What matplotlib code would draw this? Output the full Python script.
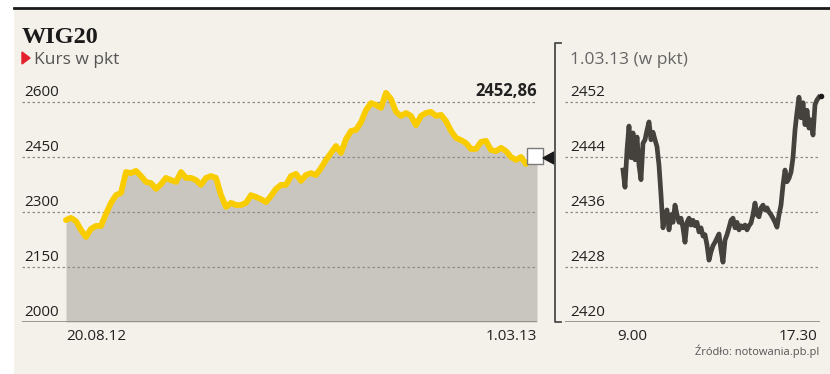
import matplotlib
matplotlib.use('Agg')
import matplotlib.pyplot as plt
from matplotlib.lines import Line2D
from matplotlib.patches import Rectangle, Polygon
import matplotlib.transforms as mtransforms

# WIG20, 20.08.12 - 1.03.13 (pkt)
wig20_daily = [2278, 2284, 2275, 2251, 2232, 2254, 2262, 2262, 2295, 2325,
               2346, 2352, 2409, 2406, 2412, 2398, 2382, 2379, 2363, 2376,
               2393, 2387, 2382, 2409, 2393, 2393, 2387, 2374, 2393, 2398,
               2393, 2346, 2314, 2325, 2319, 2319, 2325, 2346, 2341, 2335,
               2327, 2344, 2363, 2374, 2374, 2398, 2404, 2385, 2401, 2406,
               2401, 2420, 2442, 2461, 2480, 2461, 2499, 2521, 2524, 2545,
               2578, 2597, 2592, 2584, 2625, 2608, 2573, 2562, 2570, 2562,
               2537, 2562, 2570, 2573, 2562, 2565, 2548, 2521, 2502, 2496,
               2488, 2472, 2472, 2491, 2494, 2469, 2466, 2475, 2466, 2450,
               2442, 2450, 2431]
last_close = 2452.86
daily_ticks = [2000, 2150, 2300, 2450, 2600]
daily_labels = ['20.08.12', '1.03.13']

# WIG20 1.03.13, intraday
wig20_intraday = [2442.1, 2439.6, 2445.0, 2448.5, 2443.9, 2447.5, 2443.6, 2446.9, 2442.8, 2440.7,
                  2446.0, 2446.5, 2447.9, 2449.1, 2446.5, 2447.6, 2446.5, 2445.5, 2442.8, 2438.5,
                  2433.7, 2435.6, 2436.3, 2433.4, 2435.6, 2434.5, 2437.0, 2435.6, 2434.5, 2435.1,
                  2433.7, 2431.6, 2434.5, 2435.1, 2434.1, 2434.8, 2434.0, 2434.5, 2433.1, 2433.7,
                  2432.5, 2432.7, 2431.2, 2429.0, 2430.2, 2431.1, 2431.6, 2432.2, 2432.8, 2430.5,
                  2428.7, 2431.9, 2432.7, 2433.7, 2434.8, 2435.1, 2433.7, 2434.5, 2433.4, 2434.0,
                  2433.7, 2434.1, 2433.4, 2434.0, 2434.4, 2435.6, 2437.3, 2435.6, 2435.3, 2436.6,
                  2437.0, 2436.3, 2436.6, 2436.0, 2435.6, 2435.1, 2434.5, 2433.8, 2435.6, 2437.0,
                  2439.9, 2442.1, 2440.4, 2440.9, 2441.8, 2443.9, 2447.9, 2450.5, 2452.7, 2449.7,
                  2451.9, 2448.7, 2450.8, 2448.2, 2449.4, 2447.2, 2451.6, 2452.3, 2452.7]
intraday_ticks = [2420, 2428, 2436, 2444, 2452]
intraday_labels = ['9.00', '17.30']

W, H = 830, 374
BG = '#f4f0ea'
GRID = '#8f8c88'
TXT = '#222222'
FONT = 'Open Sans'


def fx(x):
    return x / W


def fy(y):
    return 1 - y / H


fig = plt.figure(figsize=(W / 100, H / 100), dpi=100)
fig.patch.set_facecolor('white')
fig.add_artist(Rectangle((fx(14), 0), 1 - fx(14), fy(8), transform=fig.transFigure,
                         facecolor=BG, edgecolor='none', zorder=0))
fig.add_artist(Line2D([fx(14), 1], [fy(8), fy(8)], transform=fig.transFigure,
                      color='#1a1a1a', lw=2))

fig.text(fx(22), fy(43), 'WIG20', family='Liberation Serif', weight='bold',
         size=17.5, color='#1a1a1a', va='baseline')
fig.add_artist(Polygon([(fx(22), fy(52)), (fx(22), fy(64)), (fx(30), fy(58))],
                       closed=True, transform=fig.transFigure, color='#e3212b'))
fig.text(fx(34), fy(64), 'Kurs w pkt', family=FONT, size=12.5, color='#555555',
         va='baseline')

# left chart
ax = fig.add_axes([fx(22), fy(322), (537 - 22) / W, (322 - 80) / H])
n = len(wig20_daily)
x0 = -(66 - 22) / 5
x1 = (n - 1) + (537 - 526) / 5
ax.set_xlim(x0, x1)
ax.set_ylim(2000, 2000 + (322 - 80) * 150 / 55)
ax.axis('off')

xs = list(range(n)) + [x1]
ax.fill_between(xs, wig20_daily + [last_close], 2000, color='#c9c6c0', lw=0, zorder=1)
ax.plot(range(n), wig20_daily, color='#f9cc00', lw=4.2, solid_joinstyle='round',
        solid_capstyle='round', zorder=3, clip_on=False)
for t in daily_ticks:
    if t == daily_ticks[0]:
        ax.axhline(t, color='#8a8884', lw=1.2, zorder=2)
    else:
        ax.axhline(t, color=GRID, lw=0.9, ls=(0, (2, 2)), zorder=2)
    ax.text(0.004, t + 16, str(t), transform=mtransforms.blended_transform_factory(ax.transAxes, ax.transData),
            family=FONT, size=11, color=TXT, va='baseline', ha='left')
ax.plot([x1 - 0.4], [last_close], marker='s', ms=11, mfc='white', mec='#7a7a7a',
        mew=1, zorder=5, clip_on=False)
ax.text(1.0, 2600 + 16, f'{last_close:.2f}'.replace('.', ','),
        transform=mtransforms.blended_transform_factory(ax.transAxes, ax.transData),
        family=FONT, weight='bold', size=12, color=TXT, ha='right', va='baseline')
ax.text(0, -0.075, daily_labels[0], transform=mtransforms.blended_transform_factory(ax.transData, ax.transAxes),
        family=FONT, size=11, color=TXT, ha='left', va='baseline')
ax.text(1.0, -0.075, daily_labels[1], transform=ax.transAxes,
        family=FONT, size=11, color=TXT, ha='right', va='baseline')

# connector
fig.add_artist(Polygon([(fx(543), fy(158)), (fx(554), fy(152)), (fx(554), fy(164))],
                       closed=True, transform=fig.transFigure, color='#1a1a1a'))
fig.add_artist(Line2D([fx(561), fx(555), fx(555), fx(561)],
                      [fy(43), fy(43), fy(322), fy(322)], transform=fig.transFigure,
                      color='#4a4a4a', lw=1.3))

# right chart
ax2 = fig.add_axes([fx(565), fy(322), (820 - 565) / W, (322 - 80) / H])
m = len(wig20_intraday)
r0 = -(623 - 565) / 2
r1 = (m - 1) + (820 - 819) / 2
ax2.set_xlim(r0, r1)
ax2.set_ylim(2420, 2420 + (322 - 80) * 8 / 55)
ax2.axis('off')
ax2.plot(range(m), wig20_intraday, color='#45413d', lw=3.4, solid_joinstyle='round',
         zorder=3, clip_on=False)
ax2.plot([m - 0.2], [last_close], 'o', ms=3, color='#1a1a1a', zorder=4, clip_on=False)
for t in intraday_ticks:
    if t == intraday_ticks[0]:
        ax2.axhline(t, color='#8a8884', lw=1.2, zorder=2)
    else:
        ax2.axhline(t, color=GRID, lw=0.9, ls=(0, (2, 2)), zorder=2)
    ax2.text(0.02, t + 0.85, str(t), transform=mtransforms.blended_transform_factory(ax2.transAxes, ax2.transData),
             family=FONT, size=11, color=TXT, va='baseline', ha='left')
fig.text(fx(570), fy(64), '1.03.13 (w pkt)', family=FONT, size=12.5, color='#666666',
         va='baseline')
ax2.text(-3, -0.075, intraday_labels[0], transform=mtransforms.blended_transform_factory(ax2.transData, ax2.transAxes),
         family=FONT, size=11, color=TXT, ha='left', va='baseline')
ax2.text(0.99, -0.075, intraday_labels[1], transform=ax2.transAxes,
         family=FONT, size=11, color=TXT, ha='right', va='baseline')

fig.text(fx(819), fy(355), 'Źródło: notowania.pb.pl', family=FONT, size=8,
         color='#555555', ha='right', va='baseline')

fig.savefig('out.png', dpi=100, facecolor=fig.get_facecolor())
